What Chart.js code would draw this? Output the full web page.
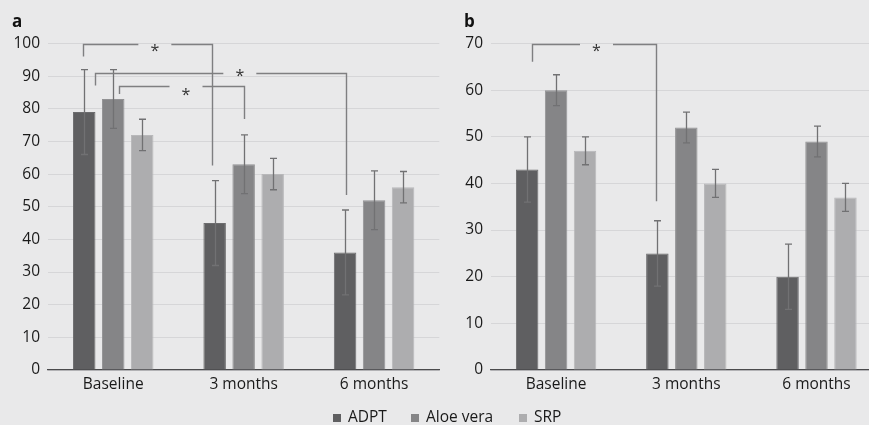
<!DOCTYPE html>
<html><head><meta charset="utf-8">
<script src="https://cdn.jsdelivr.net/npm/chart.js@4"></script>
<style>
html,body{margin:0;padding:0;background:#e9e9ea;overflow:hidden;width:869px;height:425px;}
#wrap{position:relative;width:869px;height:425px;overflow:hidden;background:#e9e9ea;}
#ca{position:absolute;left:0;top:0;}
#cb{position:absolute;left:445px;top:0;}
.pl{position:absolute;font-family:"Open Sans";font-weight:bold;font-size:17px;color:#111;line-height:1;}
#legend{position:absolute;left:0;top:0;width:869px;height:425px;pointer-events:none;}
.li{position:absolute;top:406px;font-family:"Open Sans";font-size:15.5px;color:#1a1a1a;line-height:20px;white-space:nowrap;}
.li span.sw{display:inline-block;width:8px;height:8px;margin-right:7px;vertical-align:0px;}
</style>
</head><body>
<div id="wrap">
<canvas id="ca" width="445" height="400"></canvas>
<canvas id="cb" width="443" height="400"></canvas>
<div class="pl" style="left:12px;top:12px;">a</div>
<div class="pl" style="left:464px;top:12px;">b</div>
<div id="legend"></div>
</div>
<script>
// ---- data ----
const categories = ['Baseline', '3 months', '6 months'];
const seriesNames = ['ADPT', 'Aloe vera', 'SRP'];

const aADPT = [79, 45, 36];
const aAloe = [83, 63, 52];
const aSRP  = [72, 60, 56];
const aADPTErr = [13, 13, 13];
const aAloeErr = [9, 9, 9];
const aSRPErr  = [4.8, 4.8, 4.8];
const aTicks = [0, 10, 20, 30, 40, 50, 60, 70, 80, 90, 100];

const bADPT = [43, 25, 20];
const bAloe = [60, 52, 49];
const bSRP  = [47, 40, 37];
const bADPTErr = [7, 7, 7];
const bAloeErr = [3.3, 3.3, 3.3];
const bSRPErr  = [3, 3, 3];
const bTicks = [0, 10, 20, 30, 40, 50, 60, 70];

// significance brackets: series index, from/to category index, top level, drop ends (values)
const aBrackets = [
  {series: 0, from: 0, to: 1, level: 100, dropFrom: 96, dropTo: 62.6, mark: '*'},
  {series: 0, from: 0, to: 2, level: 91, dropFrom: 87.1, dropTo: 53.6, mark: '*'},
  {series: 1, from: 0, to: 1, level: 86.9, dropFrom: 84.5, dropTo: 76.9, mark: '*'}
];
const bBrackets = [
  {series: 0, from: 0, to: 1, level: 70, dropFrom: 66.1, dropTo: 36.2, mark: '*'}
];

// ---- styles ----
const colors = ['#5f5f61', '#858587', '#adadaf'];
const borders = ['#6c6c6e', '#929294', '#b8b8ba'];
const aBracketStyle = [
  {dx1: -1, dx2: -2.5, t: 0.553, dy: 2.5},
  {dx1: 11, dx2: 1.3, t: 0.575, dy: -2},
  {dx1: 5.7, dx2: 0.8, t: 0.532, dy: 4}
];
const bBracketStyle = [
  {dx1: 4.5, dx2: -1.7, t: 0.516, dy: 2}
];
const FONT = 'Open Sans';

const overlay = {
  id: 'overlay',
  afterDatasetsDraw(chart, args, opts) {
    const ctx = chart.ctx, ys = chart.scales.y;
    ctx.save();
    // error bars
    ctx.strokeStyle = '#717173';
    ctx.lineWidth = 1.3;
    chart.data.datasets.forEach((ds, di) => {
      const meta = chart.getDatasetMeta(di);
      meta.data.forEach((bar, i) => {
        const v = ds.data[i], e = ds.err[i];
        const yt = ys.getPixelForValue(v + e), yb = ys.getPixelForValue(v - e);
        const x = Math.round(bar.x) + 0.5;
        ctx.beginPath();
        ctx.moveTo(x, yt); ctx.lineTo(x, yb);
        ctx.moveTo(x - 3.5, yt); ctx.lineTo(x + 3.5, yt);
        ctx.moveTo(x - 3.5, yb); ctx.lineTo(x + 3.5, yb);
        ctx.stroke();
      });
    });
    // brackets
    opts.brackets.forEach((b, k) => {
      const st = opts.styles[k];
      const meta = chart.getDatasetMeta(b.series);
      const x1 = Math.round(meta.data[b.from].x + st.dx1) + 0.5;
      const x2 = Math.round(meta.data[b.to].x + st.dx2) + 0.5;
      const yl = Math.round(ys.getPixelForValue(b.level)) + 0.5;
      const y1 = ys.getPixelForValue(b.dropFrom);
      const y2 = ys.getPixelForValue(b.dropTo);
      const xm = x1 + (x2 - x1) * st.t;
      const gap = 16.5;
      ctx.strokeStyle = '#7f7f81';
      ctx.lineWidth = 1.4;
      ctx.beginPath();
      ctx.moveTo(x1, y1); ctx.lineTo(x1, yl); ctx.lineTo(xm - gap, yl);
      ctx.moveTo(xm + gap, yl); ctx.lineTo(x2, yl); ctx.lineTo(x2, y2);
      ctx.stroke();
      ctx.fillStyle = '#333';
      ctx.font = '16px "' + FONT + '"';
      ctx.textAlign = 'center';
      ctx.textBaseline = 'alphabetic';
      ctx.fillText(b.mark, xm, yl + st.dy + 9);
    });
    ctx.restore();
  }
};

function makeChart(id, vals, errs, ticks, max, yWidth, padRight, brackets, bstyles) {
  const datasets = seriesNames.map((name, i) => ({
    label: name,
    data: vals[i],
    err: errs[i],
    backgroundColor: colors[i],
    borderColor: borders[i],
    borderWidth: 1,
    categoryPercentage: 0.667,
    barPercentage: 0.776
  }));
  return new Chart(document.getElementById(id), {
    type: 'bar',
    data: {labels: categories, datasets},
    options: {
      responsive: false,
      animation: false,
      devicePixelRatio: 1,
      layout: {padding: {left: 0, right: padRight, top: 43.5, bottom: 0}},
      plugins: {
        legend: {display: false},
        tooltip: {enabled: false},
        overlay: {brackets, styles: bstyles}
      },
      scales: {
        x: {
          grid: {display: false, drawTicks: false},
          border: {display: true, color: '#4a4a4c', width: 1.2},
          ticks: {color: '#1a1a1a', padding: 5, font: {family: FONT, size: 15.5}},
          afterFit(s) { s.height = 30; }
        },
        y: {
          min: 0, max: max,
          afterBuildTicks(s) { s.ticks = ticks.map(v => ({value: v})); },
          grid: {color: '#d6d6d8', drawTicks: false, lineWidth: 1},
          border: {display: false},
          ticks: {color: '#1a1a1a', padding: 8, font: {family: FONT, size: 15.5}},
          afterFit(s) { s.width = yWidth; }
        }
      }
    },
    plugins: [overlay]
  });
}

makeChart('ca', [aADPT, aAloe, aSRP], [aADPTErr, aAloeErr, aSRPErr], aTicks, 100, 48, 5.7, aBrackets, aBracketStyle);
makeChart('cb', [bADPT, bAloe, bSRP], [bADPTErr, bAloeErr, bSRPErr], bTicks, 70, 46, 6.4, bBrackets, bBracketStyle);

// legend (HTML, built from series names and colours)
const legendLeft = [333, 411, 519];
const leg = document.getElementById('legend');
seriesNames.forEach((n, i) => {
  const d = document.createElement('div');
  d.className = 'li';
  d.style.left = legendLeft[i] + 'px';
  const sw = document.createElement('span');
  sw.className = 'sw';
  sw.style.background = colors[i];
  d.appendChild(sw);
  d.appendChild(document.createTextNode(n));
  leg.appendChild(d);
});
</script>
</body></html>
